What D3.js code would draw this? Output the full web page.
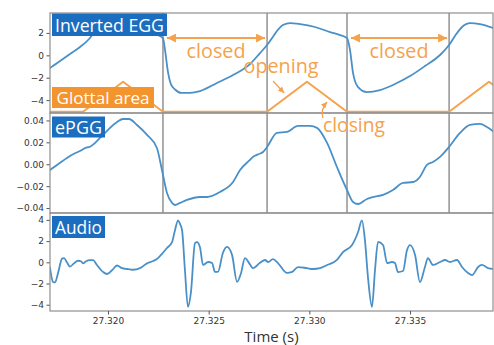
<!DOCTYPE html>
<html><head><meta charset="utf-8">
<script src="https://cdn.jsdelivr.net/npm/d3@7"></script>
<style>body{margin:0;background:#fff}svg{display:block}</style>
</head><body><svg id="c" width="494" height="345"></svg>
<script>
// ---------------- data ----------------
const eggTime = [27.31712,27.31762,27.31811,27.31861,27.31906,27.31936,27.31960,27.31985,27.32020,27.32085,27.32159,27.32233,27.32273,27.32283,27.32298,27.32313,27.32333,27.32363,27.32407,27.32457,27.32541,27.32621,27.32705,27.32755,27.32790,27.32815,27.32839,27.32869,27.32904,27.32954,27.33028,27.33103,27.33152,27.33187,27.33202,27.33217,27.33242,27.33286,27.33351,27.33425,27.33500,27.33574,27.33649,27.33694,27.33723,27.33758,27.33798,27.33847,27.33912];
const eggValue = [-1.13,-0.51,0.12,0.74,1.46,2.17,2.62,2.88,2.97,2.71,2.26,1.90,1.54,0.50,-1.50,-2.60,-3.05,-3.35,-3.35,-3.19,-2.47,-1.76,-0.78,0.20,0.92,1.54,2.17,2.71,2.88,2.79,2.53,2.08,1.81,1.54,0.47,-1.59,-2.84,-3.28,-3.10,-2.56,-1.85,-0.96,0.03,0.92,1.72,2.53,2.88,2.79,2.44];

const glottalTime = [27.31712,27.31876,27.32075,27.32273,27.32790,27.32988,27.33187,27.33694,27.33892,27.34091];
const glottalValue = [-5.04,-5.04,-2.36,-5.04,-5.04,-2.36,-5.04,-5.04,-2.36,-5.04];

const pggTime = [27.31712,27.31752,27.31796,27.31836,27.31861,27.31886,27.31911,27.31936,27.31960,27.31985,27.32010,27.32045,27.32075,27.32104,27.32144,27.32194,27.32243,27.32268,27.32293,27.32318,27.32333,27.32358,27.32392,27.32457,27.32492,27.32556,27.32621,27.32656,27.32705,27.32720,27.32745,27.32770,27.32790,27.32839,27.32889,27.32944,27.33003,27.33038,27.33088,27.33137,27.33187,27.33217,27.33242,27.33286,27.33316,27.33366,27.33415,27.33465,27.33515,27.33549,27.33584,27.33614,27.33649,27.33694,27.33748,27.33798,27.33847,27.33882,27.33917];
const pggValue = [-0.0052,0.0000,0.0058,0.0100,0.0121,0.0148,0.0160,0.0195,0.0240,0.0285,0.0332,0.0386,0.0413,0.0413,0.0359,0.0268,0.0148,-0.0052,-0.0262,-0.0353,-0.0372,-0.0353,-0.0326,-0.0299,-0.0299,-0.0253,-0.0162,-0.0052,0.0039,0.0067,0.0090,0.0112,0.0158,0.0286,0.0295,0.0350,0.0350,0.0332,0.0195,-0.0025,-0.0235,-0.0344,-0.0363,-0.0317,-0.0299,-0.0280,-0.0235,-0.0171,-0.0162,-0.0116,-0.0006,0.0021,0.0067,0.0158,0.0286,0.0359,0.0368,0.0340,0.0295];

const audioTime = [27.31712,27.31727,27.31737,27.31752,27.31772,27.31782,27.31796,27.31811,27.31831,27.31851,27.31866,27.31876,27.31891,27.31911,27.31926,27.31945,27.31975,27.31995,27.32020,27.32045,27.32070,27.32094,27.32124,27.32159,27.32194,27.32224,27.32248,27.32268,27.32293,27.32318,27.32333,27.32348,27.32358,27.32368,27.32382,27.32397,27.32412,27.32432,27.32442,27.32457,27.32472,27.32497,27.32517,27.32531,27.32546,27.32571,27.32591,27.32616,27.32641,27.32661,27.32680,27.32705,27.32720,27.32755,27.32780,27.32795,27.32819,27.32844,27.32889,27.32914,27.32944,27.32988,27.33018,27.33053,27.33088,27.33137,27.33167,27.33212,27.33242,27.33261,27.33276,27.33291,27.33311,27.33326,27.33341,27.33366,27.33386,27.33410,27.33425,27.33440,27.33465,27.33485,27.33500,27.33525,27.33549,27.33574,27.33589,27.33614,27.33649,27.33674,27.33698,27.33733,27.33758,27.33788,27.33808,27.33838,27.33857,27.33887,27.33917];
const audioValue = [-0.50,-1.85,-1.90,-1.00,0.35,0.40,0.00,-0.40,-0.10,0.15,0.10,-0.10,0.10,0.20,0.20,-0.25,-0.90,-1.10,-0.75,-0.30,-0.55,-0.63,-0.70,-0.55,-0.10,0.12,0.40,0.80,1.35,1.90,3.05,3.95,3.60,3.00,-0.70,-4.20,-2.80,1.80,1.90,1.40,-0.25,0.03,-0.07,-0.90,-0.90,0.90,1.45,0.70,-1.85,-1.00,0.40,-0.20,-0.55,-0.05,0.22,0.03,0.30,-0.07,-1.00,-0.90,-0.45,-0.55,-0.63,-0.55,-0.25,0.22,0.97,1.63,2.86,3.95,2.10,-1.39,-4.20,-0.73,1.92,1.63,-0.07,0.03,-0.07,-0.92,-0.82,1.16,1.63,0.69,-1.86,-0.44,0.40,-0.25,0.03,0.22,0.03,0.22,-0.44,-1.01,-1.20,-0.44,-0.25,-0.54,-0.63];

const phaseTimes = [27.32273, 27.32790, 27.33187, 27.33694];   // closure / opening instants
const xTicks = [27.320, 27.325, 27.330, 27.335];
const eggTicks = [2, 0, -2, -4];
const pggTicks = [0.04, 0.02, 0.00, -0.02, -0.04];
const audioTicks = [4, 2, 0, -2, -4];
const panelLabels = ["Inverted EGG", "ePGG", "Audio"];
const glottalLabel = "Glottal area";
const annotations = {closed: "closed", opening: "opening", closing: "closing"};
const xLabel = "Time (s)";

// ---------------- drawing ----------------
const BLUE = "#4a90c8", BOX_BLUE = "#1b6ebf", ORANGE = "#f5a24c", BOX_ORANGE = "#f3942f";
const SPINE = "#8f8f8f";
const svg = d3.select("#c");
const L = 50, R = 493;
const x = d3.scaleLinear().domain([27.31712, 27.33912]).range([L, R]);

const panels = [
  {top: 13, bottom: 113, domain: [-5.15, 3.78], ticks: eggTicks, fmt: d3.format("d")},
  {top: 113, bottom: 213, domain: [-0.0445, 0.0468], ticks: pggTicks, fmt: d3.format(".2f")},
  {top: 213, bottom: 311, domain: [-4.59, 4.65], ticks: audioTicks, fmt: d3.format("d")}
];
panels.forEach((p, i) => {
  p.y = d3.scaleLinear().domain(p.domain).range([p.bottom, p.top]);
  svg.append("clipPath").attr("id", "clip" + i).append("rect")
    .attr("x", L).attr("y", p.top).attr("width", R - L).attr("height", p.bottom - p.top);
});

function line(g, times, vals, y, color, w, curve, clipId) {
  const data = times.map((t, i) => [t, vals[i]]);
  g.append("path").datum(data)
    .attr("clip-path", `url(#${clipId})`)
    .attr("fill", "none").attr("stroke", color).attr("stroke-width", w)
    .attr("stroke-linejoin", "round").attr("stroke-linecap", "round")
    .attr("d", d3.line().x(d => x(d[0])).y(d => y(d[1])).curve(curve));
}

const gMain = svg.append("g");
// vertical phase lines in panels 1 and 2
gMain.selectAll(".vl").data(phaseTimes).enter().append("line")
  .attr("x1", d => x(d)).attr("x2", d => x(d))
  .attr("y1", panels[0].top).attr("y2", panels[1].bottom)
  .attr("stroke", "#8a8a8a").attr("stroke-width", 1.4);

// series
line(gMain, glottalTime, glottalValue, panels[0].y, ORANGE, 2, d3.curveLinear, "clip0");
line(gMain, eggTime, eggValue, panels[0].y, BLUE, 1.8, d3.curveMonotoneX, "clip0");
line(gMain, pggTime, pggValue, panels[1].y, BLUE, 1.8, d3.curveMonotoneX, "clip1");
line(gMain, audioTime, audioValue, panels[2].y, BLUE, 1.8, d3.curveMonotoneX, "clip2");

// axes + spines
panels.forEach((p, i) => {
  const ax = svg.append("g").attr("transform", `translate(${L},0)`)
    .call(d3.axisLeft(p.y).tickValues(p.ticks).tickFormat(p.fmt).tickSize(3.5).tickPadding(2.5));
  ax.select(".domain").remove();
  ax.selectAll("line").attr("stroke", "#555");
  ax.selectAll("text").attr("font-family", "DejaVu Sans").attr("font-size", 9).attr("fill", "#333");
  svg.append("rect").attr("x", L).attr("y", p.top).attr("width", R - L).attr("height", p.bottom - p.top)
    .attr("fill", "none").attr("stroke", SPINE).attr("stroke-width", 1.2);
});
const xa = svg.append("g").attr("transform", `translate(0,${panels[2].bottom})`)
  .call(d3.axisBottom(x).tickValues(xTicks).tickFormat(d3.format(".3f")).tickSize(3.5).tickPadding(3));
xa.select(".domain").remove();
xa.selectAll("line").attr("stroke", "#555");
xa.selectAll("text").attr("font-family", "DejaVu Sans").attr("font-size", 9).attr("fill", "#333");

svg.append("text").attr("x", (L + R) / 2).attr("y", 342).attr("text-anchor", "middle")
  .attr("font-family", "Open Sans").attr("font-size", 15).attr("fill", "#333").text(xLabel);

// helpers
function fitText(t, width) {
  const w = t.node().getComputedTextLength();
  const fs = +t.attr("font-size");
  t.attr("font-size", fs * width / w);
}
function labelBox(text, bx, by, bw, bh, fill, textW) {
  const g = svg.append("g");
  g.append("rect").attr("x", bx).attr("y", by).attr("width", bw).attr("height", bh).attr("fill", fill);
  const t = g.append("text").attr("x", bx + bw / 2).attr("y", by + bh / 2)
    .attr("text-anchor", "middle").attr("dominant-baseline", "central")
    .attr("font-family", "Open Sans").attr("font-size", 17).attr("fill", "#fff").text(text);
  fitText(t, textW);
}
labelBox(glottalLabel, 52, 87, 102, 21, BOX_ORANGE, 93);
labelBox(panelLabels[0], 52, 13.5, 115, 22.5, BOX_BLUE, 109);
labelBox(panelLabels[1], 52, 116.5, 53, 21, BOX_BLUE, 47);
labelBox(panelLabels[2], 52, 216, 53, 22, BOX_BLUE, 47);

// annotations
const defs = svg.append("defs");
function marker(id, len, wid) {
  defs.append("marker").attr("id", id).attr("viewBox", `0 0 ${len} ${wid}`)
    .attr("refX", len).attr("refY", wid / 2).attr("markerWidth", len).attr("markerHeight", wid)
    .attr("markerUnits", "userSpaceOnUse").attr("orient", "auto-start-reverse")
    .append("path").attr("d", `M0,0L${len},${wid / 2}L0,${wid}Z`).attr("fill", ORANGE);
}
marker("ah", 9, 9);
marker("ahs", 6, 6);

const yE = panels[0].y;
const arrowY = yE(1.54);
[[phaseTimes[0], phaseTimes[1]], [phaseTimes[2], phaseTimes[3]]].forEach(([a, b]) => {
  svg.append("line").attr("x1", x(a) + 4).attr("x2", x(b) - 2).attr("y1", arrowY).attr("y2", arrowY)
    .attr("stroke", ORANGE).attr("stroke-width", 2)
    .attr("marker-start", "url(#ah)").attr("marker-end", "url(#ah)");
  const t = svg.append("text").attr("x", (x(a) + x(b)) / 2 + 1).attr("y", 58).attr("text-anchor", "middle")
    .attr("font-family", "Open Sans").attr("font-size", 18).attr("fill", ORANGE).text(annotations.closed);
  fitText(t, 59);
});

const xo = x(phaseTimes[1]);
const to = svg.append("text").attr("x", xo + 14).attr("y", 73).attr("text-anchor", "middle")
  .attr("font-family", "Open Sans").attr("font-size", 18).attr("fill", ORANGE).text(annotations.opening);
fitText(to, 75);
svg.append("line").attr("x1", xo + 6).attr("y1", 81).attr("x2", xo + 17).attr("y2", 93)
  .attr("stroke", ORANGE).attr("stroke-width", 1.3).attr("marker-end", "url(#ahs)");

const xc = x(phaseTimes[2]);
const tc = svg.append("text").attr("x", xc + 7).attr("y", 132).attr("text-anchor", "middle")
  .attr("font-family", "Open Sans").attr("font-size", 18).attr("fill", ORANGE).text(annotations.closing);
fitText(tc, 62);
svg.append("path").attr("d", `M${xc - 24},118 Q${xc - 27},110 ${xc - 20},102`)
  .attr("fill", "none").attr("stroke", ORANGE).attr("stroke-width", 1.3).attr("marker-end", "url(#ahs)");
</script></body></html>
